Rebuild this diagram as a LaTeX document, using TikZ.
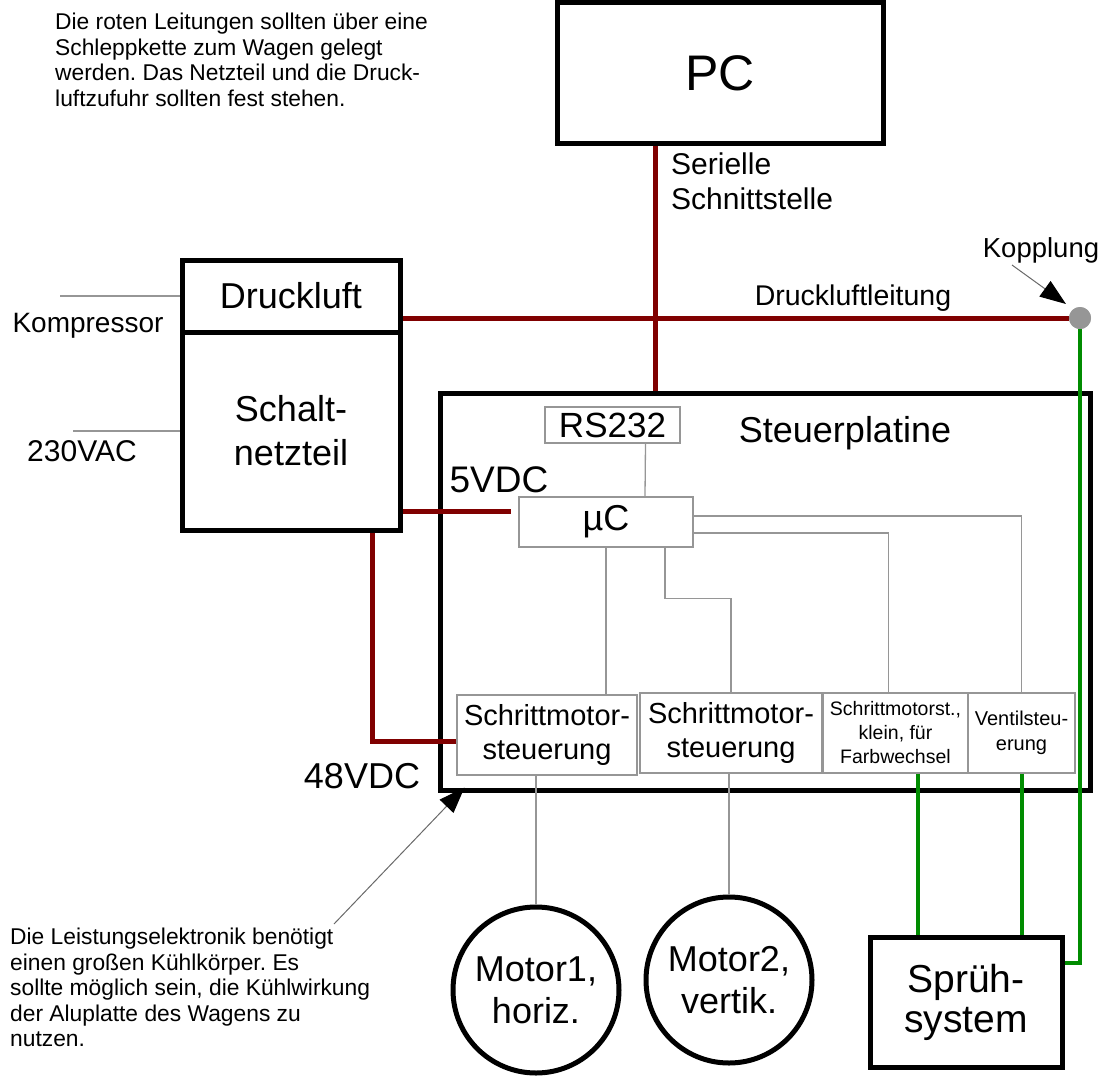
\documentclass[tikz,border=0pt]{standalone}
\usepackage{fontspec}
\setmainfont{Liberation Sans}
\usetikzlibrary{calc, arrows.meta}

\definecolor{wirered}{RGB}{128,0,0}
\definecolor{wiregreen}{RGB}{0,140,0}
\definecolor{thingray}{RGB}{150,150,150}

\frenchspacing

\begin{document}
\begin{tikzpicture}[
            x=1pt, y=-1pt,
            % styles
            bigbox/.style={rectangle, draw=black, line width=5pt, fill=white, inner sep=0pt, align=center, font=\fontsize{36}{44}\selectfont},
            smallbox/.style={rectangle, draw=thingray, line width=1.3pt, fill=white, inner sep=0pt, align=center, font=\fontsize{29}{34}\selectfont},
            motor/.style={circle, draw=black, line width=5pt, fill=white, inner sep=0pt, minimum size=166pt, align=center, font=\fontsize{36}{42}\selectfont},
            txt/.style={inner sep=0pt, font=\fontsize{#1}{#1}\selectfont},
            note/.style={inner sep=0pt, anchor=north west, align=left, font=\fontsize{22.8}{25.5}\selectfont},
            redwire/.style={draw=wirered, line width=5pt},
            greenwire/.style={draw=wiregreen, line width=4pt},
            signal/.style={draw=thingray, line width=1.3pt},
            pointer/.style={draw=thingray!70!black, line width=1pt, -{Triangle[length=26pt,width=19pt,color=black]}}
        ]
        \useasboundingbox (0,0) rectangle (1104,1077);

        % notes
        \node (note1) [note] at (55,13) {Die roten Leitungen sollten über eine\\Schleppkette zum Wagen gelegt\\werden. Das Netzteil und die Druck-\\luftzufuhr sollten fest stehen.};
        \node (note2) [note] at (10,928) {Die Leistungselektronik benötigt\\einen großen Kühlkörper. Es\\sollte möglich sein, die Kühlwirkung\\der Aluplatte des Wagens zu\\nutzen.};

        % fixed part
        \node (pc) [bigbox, minimum width=326pt, minimum height=141pt, font=\fontsize{50}{50}\selectfont] at (720,73) {PC};
        \node (druck) [bigbox, minimum width=218pt, minimum height=72pt] at (291,296) {Druckluft};
        \node (netz) [bigbox, minimum width=218pt, minimum height=198pt] at (291,431) {Schalt-\\netzteil};
        \node (komp) [txt=28] at (88,326) {Kompressor};
        \node (vac) [txt=30] at (82,451) {230VAC};

        % board
        \node (steuer) [bigbox, fill=none, minimum width=650pt, minimum height=397pt] at (765,591.5) {};
        \node (steuertxt) [txt=36] at (845,433) {Steuerplatine};
        \node (rs) [smallbox, minimum width=135pt, minimum height=36pt, font=\fontsize{35}{35}\selectfont] at (612.5,425) {RS232};
        \node (uc) [smallbox, minimum width=174pt, minimum height=50pt, font=\fontsize{36}{36}\selectfont] at (606,522) {µC};
        \node (sm1) [smallbox, minimum width=180pt, minimum height=80pt] at (547,735) {Schrittmotor-\\steuerung};
        \node (sm2) [smallbox, minimum width=182pt, minimum height=80pt] at (731,733) {Schrittmotor-\\steuerung};
        \node (sm3) [smallbox, minimum width=145pt, minimum height=80pt, font=\fontsize{19.5}{24}\selectfont] at (895.5,733) {Schrittmotorst.,\\klein, für\\Farbwechsel};
        \node (ventil) [smallbox, minimum width=107pt, minimum height=80pt, font=\fontsize{20}{25}\selectfont] at (1021.5,733) {Ventilsteu-\\erung};
        \node (v5) [txt=37] at (499,480) {5VDC};
        \node (v48) [txt=36] at (362,776) {48VDC};

        % outputs
        \node (m1) [motor] at (536,990) {Motor1,\\horiz.};
        \node (m2) [motor] at (729,980) {Motor2,\\vertik.};
        \node (sprueh) [bigbox, minimum width=192pt, minimum height=130pt, font=\fontsize{39}{40}\selectfont] at (966,1002) {Sprüh-\\system};

        % coupling
        \node (kopp) [circle, fill=thingray, inner sep=0pt, minimum size=22pt] at (1080,318) {};
        \node (kopptxt) [txt=27.5] at (1041,250) {Kopplung};
        \node (leitung) [txt=28.5] at (853,298) {Druckluftleitung};
        \node (serial) [inner sep=0pt, anchor=north west, align=left, font=\fontsize{30}{35}\selectfont] at (671,153) {Serielle\\Schnittstelle};

        % supply lines
        \draw [signal] (druck.west) -- ++(-120,0);
        \draw [signal] (netz.west) -- ++(-107,0);

        % signal lines on the board
        \draw [signal] ([xshift=33pt]rs.south) -- ([xshift=39pt]uc.north);
        \draw [signal] (uc.south) -- (uc.south |- sm1.north);
        \draw [signal] ([xshift=59pt]uc.south) -- ++(0,51) -| (sm2.north);
        \draw [signal] ([yshift=6pt]uc.east) -| (ventil.north);
        \draw [signal] ([yshift=-11pt]uc.east) -| ([xshift=-7pt]sm3.north);
        \draw [signal] (m1.north |- sm1.south) -- (m1.north);
        \draw [signal] (m2.north |- sm2.south) -- (m2.north);

        % red lines
        \coordinate (ser) at (655,0);
        \coordinate (c5) at ($(uc.north west)+(-7,15)$);
        \draw [redwire] (pc.south -| ser) -- (steuer.north -| ser);
        \draw [redwire] (druck.east |- kopp) -- (kopp);
        \draw [redwire] (netz.east |- c5) -- (c5);
        \draw [redwire] ([xshift=81pt]netz.south) |- ([yshift=-6pt]sm1.west);

        % green lines
        \coordinate (g1) at ($(sprueh.north west)+(50,0)$);
        \draw [greenwire] (g1 |- sm3.south) -- (g1);
        \draw [greenwire] (ventil.south) -- (ventil.south |- sprueh.north);
        \draw [greenwire] (kopp) |- ($(sprueh.east)+(0,-39)$);
        \node [circle, fill=thingray, inner sep=0pt, minimum size=22pt] at (kopp) {};

        % pointers
        \draw [pointer] (1012,265) -- (1066,304);
        \draw [pointer] ($(note2.north west)+(324,-4)$) -- ($(steuer.south west)+(27,-5)$);

        \end{tikzpicture}
\end{document}
